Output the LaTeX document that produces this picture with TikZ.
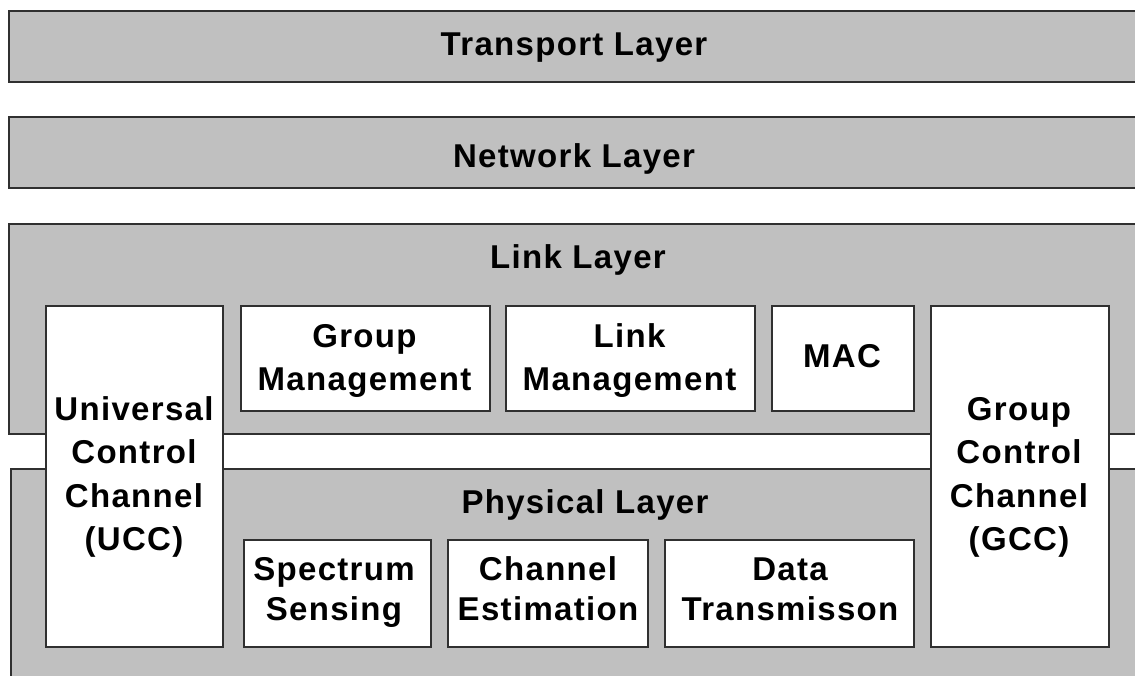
\documentclass[tikz,border=0pt]{standalone}
\usepackage{fontspec}
\setmainfont{Liberation Sans}[LetterSpace=4]
\definecolor{layfill}{HTML}{C0C0C0}
\definecolor{edgecol}{HTML}{303030}
\tikzset{
  layer/.style={draw=edgecol, line width=2pt, fill=layfill, anchor=north west, inner sep=0pt},
  block/.style={draw=edgecol, line width=1.8pt, fill=white, anchor=north west, inner sep=0pt},
  lbl/.style={anchor=base, inner sep=0pt, font=\bfseries\fontsize{33}{43.5}\selectfont},
  lblb/.style={anchor=base, inner sep=0pt, font=\bfseries\fontsize{33}{40}\selectfont},
}
\newcommand{\mlines}[1]{\begin{tabular}[t]{@{}c@{}}#1\end{tabular}}
\begin{document}
\begin{tikzpicture}[x=1pt,y=-1pt]
\useasboundingbox (0,0) rectangle (1135,675);
\clip (0,0) rectangle (1135,675);
% layers
\node[layer, minimum width=1150, minimum height=71] (transport) at (8,10) {};
\node[layer, minimum width=1150, minimum height=71] (network) at (8,116) {};
\node[layer, minimum width=1150, minimum height=210] (link) at (8,223) {};
\node[layer, minimum width=1150, minimum height=230] (phys) at (10,468) {};
% channels
\node[block, minimum width=177, minimum height=341] (ucc) at (45,305) {};
\node[block, minimum width=178, minimum height=341] (gcc) at (930,305) {};
% link sub-blocks
\node[block, minimum width=249, minimum height=105] (gm) at (240,305) {};
\node[block, minimum width=249, minimum height=105] (lm) at (505,305) {};
\node[block, minimum width=142, minimum height=105] (mac) at (771,305) {};
% physical sub-blocks
\node[block, minimum width=187, minimum height=107] (ss) at (243,539) {};
\node[block, minimum width=200, minimum height=107] (ce) at (447,539) {};
\node[block, minimum width=249, minimum height=107] (dt) at (664,539) {};
% labels
\node[lbl] (transportT) at (574,55) {Transport Layer};
\node[lbl] (networkT) at (574,167) {Network Layer};
\node[lbl] (linkT) at (578,268) {Link Layer};
\node[lbl] (physT) at (585,513) {Physical Layer};
\node[lbl] (uccT) at (134,420) {\mlines{Universal\\Control\\Channel\\(UCC)}};
\node[lbl] (gccT) at (1019,420) {\mlines{Group\\Control\\Channel\\(GCC)}};
\node[lbl] (gmT) at (364.5,347) {\mlines{Group\\Management}};
\node[lbl] (lmT) at (629.5,347) {\mlines{Link\\Management}};
\node[lbl] (macT) at (842,367) {MAC};
\node[lblb] (ssT) at (334,580) {\mlines{Spectrum\\Sensing}};
\node[lblb] (ceT) at (548,580) {\mlines{Channel\\Estimation}};
\node[lblb] (dtT) at (790,580) {\mlines{Data\\Transmisson}};
\end{tikzpicture}
\end{document}
